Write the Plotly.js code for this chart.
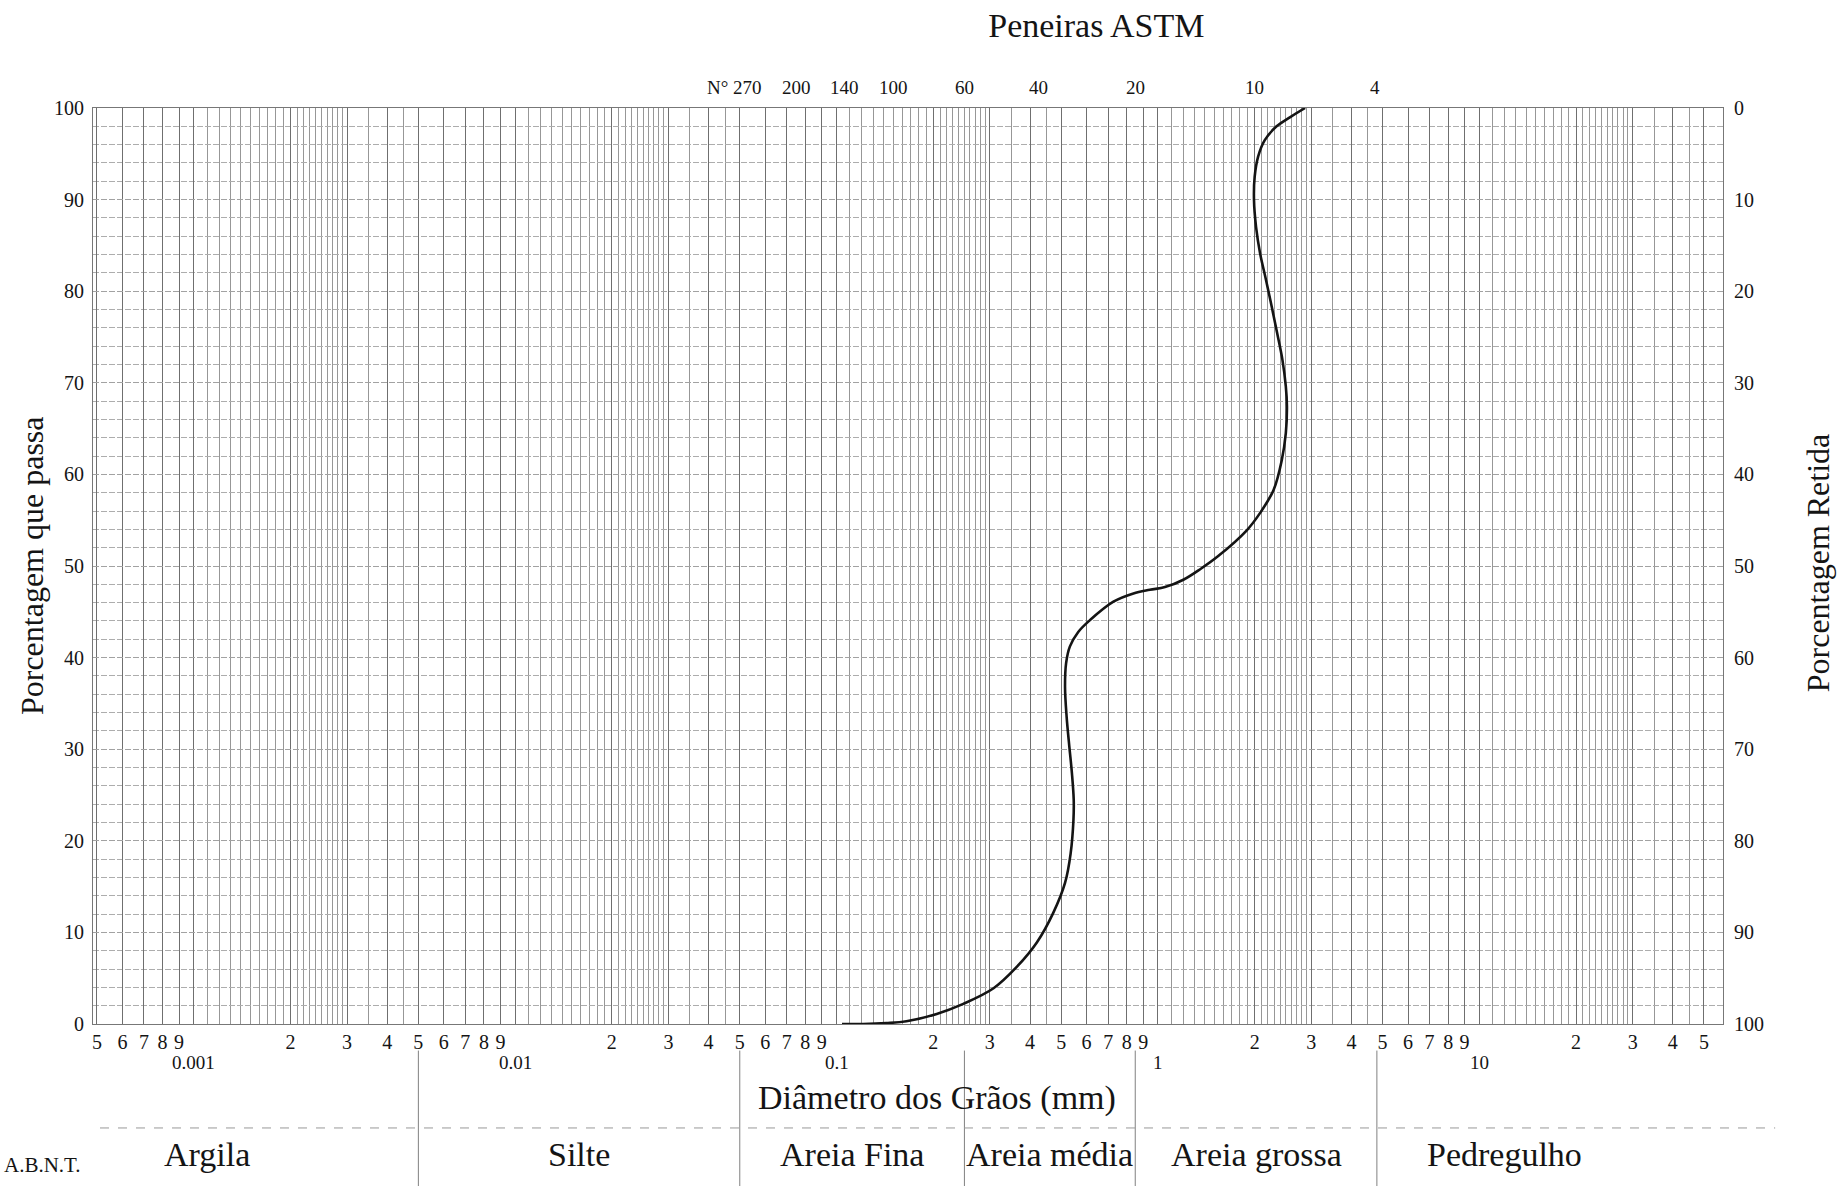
<!DOCTYPE html>
<html>
<head>
<meta charset="utf-8">
<script src="https://cdn.plot.ly/plotly-3.0.1.min.js"></script>
<style>
  html, body { margin: 0; padding: 0; background: #fff; }
  #chart { width: 1838px; height: 1186px; }
</style>
</head>
<body>
<div id="chart"></div>
<script>
// Curva granulométrica: diâmetro dos grãos (mm) x porcentagem que passa (%)
const diameterMm = [0.104, 0.121, 0.143, 0.165, 0.205, 0.248, 0.308, 0.363, 0.42, 0.472,
  0.514, 0.535, 0.546, 0.547, 0.54, 0.53, 0.52, 0.514, 0.518, 0.532,
  0.565, 0.615, 0.727, 0.839, 0.944, 1.052, 1.20, 1.36, 1.53, 1.89,
  2.08, 2.29, 2.43, 2.50, 2.52, 2.50, 2.44, 2.35, 2.26, 2.17,
  2.08, 2.02, 1.99, 2.0, 2.05, 2.15, 2.34, 2.58, 2.87];
const percentPassing = [0, 0, 0.1, 0.3, 1.1, 2.2, 3.9, 6.2, 8.9, 12.1,
  15.4, 18.6, 22.3, 24.5, 27.4, 30.3, 33.5, 36.8, 39.4, 41.2,
  42.8, 44.1, 46.1, 47.0, 47.4, 47.7, 48.5, 49.7, 51.0, 53.9,
  55.8, 58.3, 61.6, 64.5, 67.4, 69.6, 72.5, 75.4, 78.3, 81.2,
  84.1, 87.0, 90.0, 92.5, 94.7, 96.5, 98.0, 99.0, 100];

// Peneiras ASTM: número e abertura (mm)
const sieveNumbers = ['N° 270', '200', '140', '100', '60', '40', '20', '10', '4'];
const sieveOpeningsMm = [0.053, 0.075, 0.106, 0.150, 0.250, 0.425, 0.850, 2.0, 4.75];

// Frações granulométricas A.B.N.T. e seus limites (mm)
const abntFractions = ['Argila', 'Silte', 'Areia Fina', 'Areia média', 'Areia grossa', 'Pedregulho'];
const abntLimitsMm = [0.005, 0.05, 0.25, 0.85, 4.8];

// Papel log: décadas, algarismos rotulados e subdivisões
const decades = [0.0001, 0.001, 0.01, 0.1, 1, 10];
const decadeLabels = ['0.0001', '0.001', '0.01', '0.1', '1', '10'];
const labelledDigits = [2, 3, 4, 5, 6, 7, 8, 9];
const fineDigits = [1.1, 1.2, 1.3, 1.4, 1.5, 1.6, 1.7, 1.8, 1.9,
  2.1, 2.2, 2.3, 2.4, 2.5, 2.6, 2.7, 2.8, 2.9, 3.5, 4.5];
const percentTicks = [0, 10, 20, 30, 40, 50, 60, 70, 80, 90, 100];

const FONT = 'Liberation Serif, Times New Roman, serif';
const INK = '#141414';
const xMin = 0.000486, xMax = 57.3;

const annotations = [];

// Marcas do eixo x: algarismos 2..9 no eixo, décadas numa segunda linha
const xTickVals = [], xTickText = [], xMinorVals = [];
decades.forEach((dec, i) => {
  [1].concat(labelledDigits).forEach(d => {
    const v = +(d * dec).toPrecision(4);
    if (v < xMin || v > xMax) return;
    xTickVals.push(v);
    xTickText.push(d === 1 ? '' : String(d));
    if (d === 1) {
      annotations.push({
        x: Math.log10(v), xref: 'x', y: -0.0415, yref: 'paper',
        text: decadeLabels[i], showarrow: false, xanchor: 'center', yanchor: 'middle',
        font: { family: FONT, size: 19, color: INK }
      });
    }
  });
  fineDigits.forEach(d => {
    const v = +(d * dec).toPrecision(4);
    if (v >= xMin && v <= xMax) xMinorVals.push(v);
  });
});

// Posições (mm) dos nomes das frações
const fractionLabelX = [0.0011].concat(
  abntLimitsMm.slice(0, -1).map((a, i) => Math.sqrt(a * abntLimitsMm[i + 1])),
  [12]);

const traces = [
  {
    x: diameterMm, y: percentPassing, type: 'scatter', mode: 'lines',
    line: { color: INK, width: 2.6, shape: 'spline', smoothing: 1 },
    hoverinfo: 'x+y', showlegend: false
  },
  { x: [], y: [], type: 'scatter', mode: 'lines', yaxis: 'y2', showlegend: false, hoverinfo: 'skip' }
];

sieveNumbers.forEach((n, i) => {
  const isFirst = i === 0;
  annotations.push({
    x: Math.log10(sieveOpeningsMm[i]), xref: 'x', y: 1.022, yref: 'paper',
    text: n, showarrow: false, xanchor: isFirst ? 'right' : 'center', xshift: isFirst ? 16 : 0,
    yanchor: 'middle', font: { family: FONT, size: 19, color: INK }
  });
});
abntFractions.forEach((name, i) => {
  annotations.push({
    x: Math.log10(fractionLabelX[i]), xref: 'x', y: -0.143, yref: 'paper',
    text: name, showarrow: false, xanchor: 'center', yanchor: 'middle',
    font: { family: FONT, size: 34, color: INK }
  });
});
annotations.push({
  x: -0.0307, xref: 'paper', y: -0.154, yref: 'paper', text: 'A.B.N.T.',
  showarrow: false, xanchor: 'center', yanchor: 'middle',
  font: { family: FONT, size: 21, color: INK }
});
annotations.push({
  x: 0.518, xref: 'paper', y: -0.081, yref: 'paper', text: 'Diâmetro dos Grãos (mm)',
  showarrow: false, xanchor: 'center', yanchor: 'middle',
  font: { family: FONT, size: 34, color: INK }
});
annotations.push({
  x: -0.0374, xref: 'paper', y: 0.5, yref: 'paper', text: 'Porcentagem que passa',
  textangle: -90, showarrow: false, xanchor: 'center', yanchor: 'middle',
  font: { family: FONT, size: 32, color: INK }
});
annotations.push({
  x: 1.0583, xref: 'paper', y: 0.503, yref: 'paper', text: 'Porcentagem Retida',
  textangle: -90, showarrow: false, xanchor: 'center', yanchor: 'middle',
  font: { family: FONT, size: 32, color: INK }
});

// Divisões da escala A.B.N.T.
const shapes = abntLimitsMm.map(v => ({
  type: 'line', xref: 'x', yref: 'paper', x0: v, x1: v, y0: -0.029, y1: -0.18,
  line: { color: '#808080', width: 1 }
}));
shapes.push({
  type: 'line', xref: 'paper', yref: 'paper', x0: 0.0043, x1: 1.032, y0: -0.1135, y1: -0.1135,
  line: { color: '#999999', width: 1, dash: 'dash' }
});

const layout = {
  width: 1838, height: 1186,
  margin: { l: 93, r: 115, t: 108, b: 162 },
  paper_bgcolor: '#fff', plot_bgcolor: '#fff',
  font: { family: FONT, color: INK },
  title: {
    text: 'Peneiras ASTM', xref: 'container', yref: 'container',
    x: 0.5965, xanchor: 'center', y: 0.979, yanchor: 'middle',
    font: { family: FONT, size: 34, color: INK }
  },
  xaxis: {
    type: 'log', range: [Math.log10(xMin), Math.log10(xMax)], automargin: false,
    tickmode: 'array', tickvals: xTickVals, ticktext: xTickText, tickangle: 0,
    ticks: '', tickfont: { family: FONT, size: 20, color: INK },
    showgrid: true, gridcolor: '#6f6f6f', gridwidth: 1,
    minor: { tickmode: 'array', tickvals: xMinorVals, showgrid: true, gridcolor: '#979797', gridwidth: 1, ticks: '' },
    showline: true, linecolor: '#777777', linewidth: 1, mirror: true,
    zeroline: false, fixedrange: true
  },
  yaxis: {
    range: [0, 100], automargin: false,
    tickmode: 'array', tickvals: percentTicks, ticks: 'outside', ticklen: 4, tickcolor: 'rgba(0,0,0,0)',
    tickfont: { family: FONT, size: 20, color: INK },
    showgrid: true, gridcolor: '#a2a2a2', gridwidth: 1, griddash: '6px,2px',
    minor: { dtick: 2, showgrid: true, gridcolor: '#adadad', gridwidth: 1, griddash: '6px,2px', ticks: '' },
    showline: true, linecolor: '#777777', linewidth: 1, mirror: true,
    zeroline: false, fixedrange: true
  },
  yaxis2: {
    overlaying: 'y', side: 'right', range: [100, 0], automargin: false,
    tickmode: 'array', tickvals: percentTicks, ticks: 'outside', ticklen: 6, tickcolor: 'rgba(0,0,0,0)',
    tickfont: { family: FONT, size: 20, color: INK },
    showgrid: false, zeroline: false, showline: false, fixedrange: true
  },
  annotations: annotations,
  shapes: shapes,
  showlegend: false
};

Plotly.newPlot('chart', traces, layout, { displayModeBar: false, staticPlot: true });
</script>
</body>
</html>
